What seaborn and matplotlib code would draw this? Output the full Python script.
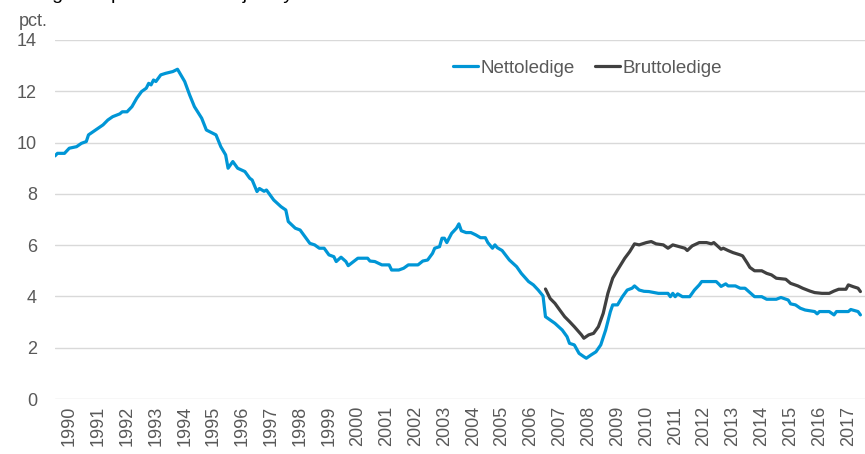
import numpy as np
import pandas as pd
import matplotlib
matplotlib.use("Agg")
import matplotlib.pyplot as plt
import seaborn as sns

# Nettoledige, pct. of labour force
netto_dates = [
    "1990-01", "1990-02", "1990-05", "1990-07", "1990-10", "1990-12",
    "1991-02", "1991-03", "1991-05", "1991-07", "1991-09", "1991-11",
    "1992-01", "1992-04", "1992-05", "1992-07", "1992-09", "1992-11",
    "1993-01", "1993-03", "1993-04", "1993-05", "1993-06", "1993-07", "1993-09", "1993-11",
    "1994-02", "1994-04", "1994-05", "1994-07", "1994-09", "1994-11",
    "1995-02", "1995-04", "1995-08", "1995-10", "1995-12",
    "1996-01", "1996-03", "1996-05", "1996-08", "1996-10", "1996-11",
    "1997-01", "1997-02", "1997-04", "1997-05", "1997-08", "1997-11",
    "1998-01", "1998-02", "1998-05", "1998-07", "1998-09", "1998-11",
    "1999-01", "1999-03", "1999-05", "1999-07", "1999-09", "1999-10", "1999-12",
    "2000-02", "2000-03", "2000-07", "2000-11", "2000-12",
    "2001-02", "2001-05", "2001-08", "2001-09", "2001-12",
    "2002-02", "2002-04", "2002-08", "2002-10", "2002-12",
    "2003-02", "2003-03", "2003-05", "2003-06", "2003-07", "2003-08", "2003-10", "2003-12",
    "2004-01", "2004-02", "2004-04", "2004-06", "2004-08", "2004-10", "2004-12",
    "2005-01", "2005-03", "2005-04", "2005-05", "2005-07", "2005-10",
    "2006-01", "2006-03", "2006-06", "2006-08", "2006-10", "2006-12",
    "2007-01", "2007-03", "2007-05", "2007-08", "2007-10", "2007-11",
    "2008-01", "2008-03", "2008-05", "2008-06", "2008-08", "2008-10", "2008-12",
    "2009-02", "2009-04", "2009-05", "2009-07", "2009-09", "2009-11",
    "2010-01", "2010-02", "2010-04", "2010-06", "2010-08", "2010-12",
    "2011-04", "2011-05", "2011-06", "2011-07", "2011-08", "2011-10",
    "2012-01", "2012-03", "2012-05", "2012-06", "2012-12",
    "2013-01", "2013-02", "2013-04", "2013-05", "2013-08", "2013-10", "2013-12",
    "2014-02", "2014-04", "2014-07", "2014-09",
    "2015-01", "2015-03", "2015-06", "2015-07", "2015-09", "2015-11",
    "2016-01", "2016-05", "2016-06", "2016-07", "2016-11",
    "2017-01", "2017-02", "2017-07", "2017-08", "2017-11", "2017-12",
]
netto_values = [
    9.48, 9.58, 9.58, 9.78, 9.84, 9.97,
    10.04, 10.30, 10.43, 10.56, 10.69, 10.88,
    11.01, 11.12, 11.20, 11.20, 11.40, 11.73,
    11.99, 12.12, 12.31, 12.25, 12.44, 12.38, 12.64, 12.70,
    12.77, 12.86, 12.70, 12.38, 11.86, 11.40,
    10.95, 10.49, 10.30, 9.84, 9.52,
    9.00, 9.26, 9.00, 8.87, 8.61, 8.54,
    8.09, 8.21, 8.10, 8.15, 7.76, 7.50,
    7.37, 6.92, 6.66, 6.59, 6.33, 6.07,
    6.01, 5.88, 5.88, 5.62, 5.55, 5.36, 5.53,
    5.36, 5.20, 5.49, 5.49, 5.38,
    5.36, 5.23, 5.23, 5.03, 5.03,
    5.10, 5.23, 5.23, 5.38, 5.42,
    5.68, 5.88, 5.94, 6.27, 6.27, 6.10, 6.46, 6.66,
    6.83, 6.56, 6.49, 6.49, 6.40, 6.29, 6.29,
    6.10, 5.88, 6.01, 5.90, 5.79, 5.42,
    5.16, 4.90, 4.58, 4.45, 4.25, 4.02,
    3.21, 3.08, 2.95, 2.69, 2.43, 2.17,
    2.11, 1.78, 1.65, 1.59, 1.72, 1.84, 2.11,
    2.69, 3.40, 3.67, 3.67, 3.99, 4.25,
    4.32, 4.41, 4.25, 4.20, 4.19, 4.12,
    4.12, 3.99, 4.12, 3.99, 4.10, 3.99,
    3.99, 4.25, 4.45, 4.58, 4.58,
    4.49, 4.39, 4.49, 4.41, 4.41, 4.32, 4.32,
    4.15, 3.99, 3.99, 3.89,
    3.89, 3.96, 3.86, 3.71, 3.67, 3.54,
    3.47, 3.41, 3.32, 3.41, 3.41,
    3.28, 3.41, 3.41, 3.49, 3.41, 3.28,
]

# Bruttoledige, from 2007
brutto_dates = [
    "2007-01", "2007-03", "2007-05", "2007-07", "2007-09", "2007-11",
    "2008-01", "2008-04", "2008-05", "2008-07", "2008-09", "2008-11",
    "2009-01", "2009-03", "2009-05", "2009-07", "2009-10", "2009-12",
    "2010-02", "2010-04", "2010-07", "2010-09", "2010-11",
    "2011-02", "2011-04", "2011-06", "2011-11", "2011-12",
    "2012-02", "2012-05", "2012-08", "2012-10", "2012-11",
    "2013-02", "2013-03", "2013-05", "2013-07", "2013-10", "2013-11",
    "2014-01", "2014-02", "2014-04", "2014-07", "2014-09", "2014-11",
    "2015-01", "2015-05", "2015-07", "2015-10", "2015-12",
    "2016-03", "2016-05", "2016-08", "2016-11",
    "2017-01", "2017-03", "2017-06", "2017-07", "2017-09", "2017-11", "2017-12",
]
brutto_values = [
    4.29, 3.92, 3.73, 3.47, 3.21, 3.02,
    2.82, 2.50, 2.37, 2.50, 2.56, 2.82,
    3.34, 4.12, 4.71, 5.03, 5.49, 5.74,
    6.05, 6.01, 6.10, 6.14, 6.05,
    6.01, 5.88, 6.01, 5.88, 5.79,
    5.97, 6.10, 6.10, 6.05, 6.10,
    5.84, 5.88, 5.79, 5.71, 5.62, 5.58,
    5.29, 5.13, 5.00, 5.00, 4.90, 4.84,
    4.71, 4.67, 4.51, 4.41, 4.32,
    4.21, 4.15, 4.12, 4.12,
    4.21, 4.28, 4.28, 4.45, 4.38, 4.32, 4.19,
]

series_names = ["Nettoledige", "Bruttoledige"]
years = list(range(1990, 2018))

df = pd.concat([
    pd.DataFrame({"dato": pd.to_datetime(netto_dates), "pct": netto_values, "serie": series_names[0]}),
    pd.DataFrame({"dato": pd.to_datetime(brutto_dates), "pct": brutto_values, "serie": series_names[1]}),
])

sns.set_style("white")
plt.rcParams["font.family"] = ["Liberation Sans", "DejaVu Sans"]

grey = "#595959"
fig = plt.figure(figsize=(8.65, 4.54), dpi=100)
ax = fig.add_axes([55 / 865, 1 - 399 / 454, 810 / 865, 359 / 454])

sns.lineplot(data=df, x="dato", y="pct", hue="serie", hue_order=series_names,
             palette=["#0096d6", "#404040"], linewidth=2.3, ax=ax, legend=False)

ax.set_xlim(pd.Timestamp("1990-01-01"), pd.Timestamp("2018-01-28"))
ax.set_ylim(0, 14)
ax.set_yticks(range(0, 15, 2))
ax.grid(axis="y", color="#d9d9d9", linewidth=1)
ax.grid(axis="x", visible=False)
for s in ax.spines.values():
    s.set_visible(False)

ax.set_xticks([pd.Timestamp(f"{y}-07-01") for y in years])
ax.set_xticklabels([str(y) for y in years], rotation=90, va="top", ha="center")
ax.tick_params(axis="x", length=0, pad=5, labelsize=13, labelcolor=grey)
ax.tick_params(axis="y", length=0, pad=13, labelsize=13, labelcolor=grey)
ax.set_xlabel("")
ax.set_ylabel("")

handles = [plt.Line2D([], [], color=c, linewidth=2.3) for c in ["#0096d6", "#404040"]]
leg = fig.legend(handles, series_names, ncol=2, frameon=False, fontsize=13.5,
                 loc="center left", bbox_to_anchor=(436 / 865, 1 - 68 / 454),
                 handlelength=1.35, handletextpad=0.1, columnspacing=1.1)
for t in leg.get_texts():
    t.set_color(grey)

fig.text(19 / 865, 1 - 13 / 454, "pct.", fontsize=13, color=grey, va="top", ha="left")
# title sits above the top edge, only its descenders show (as in the source)
fig.text(15 / 865, 1 + 1 / 454, "Ledighed i procent af arbejdsstyrken", fontsize=14,
         color="black", va="baseline", ha="left")

fig.savefig("out.png", dpi=100)
